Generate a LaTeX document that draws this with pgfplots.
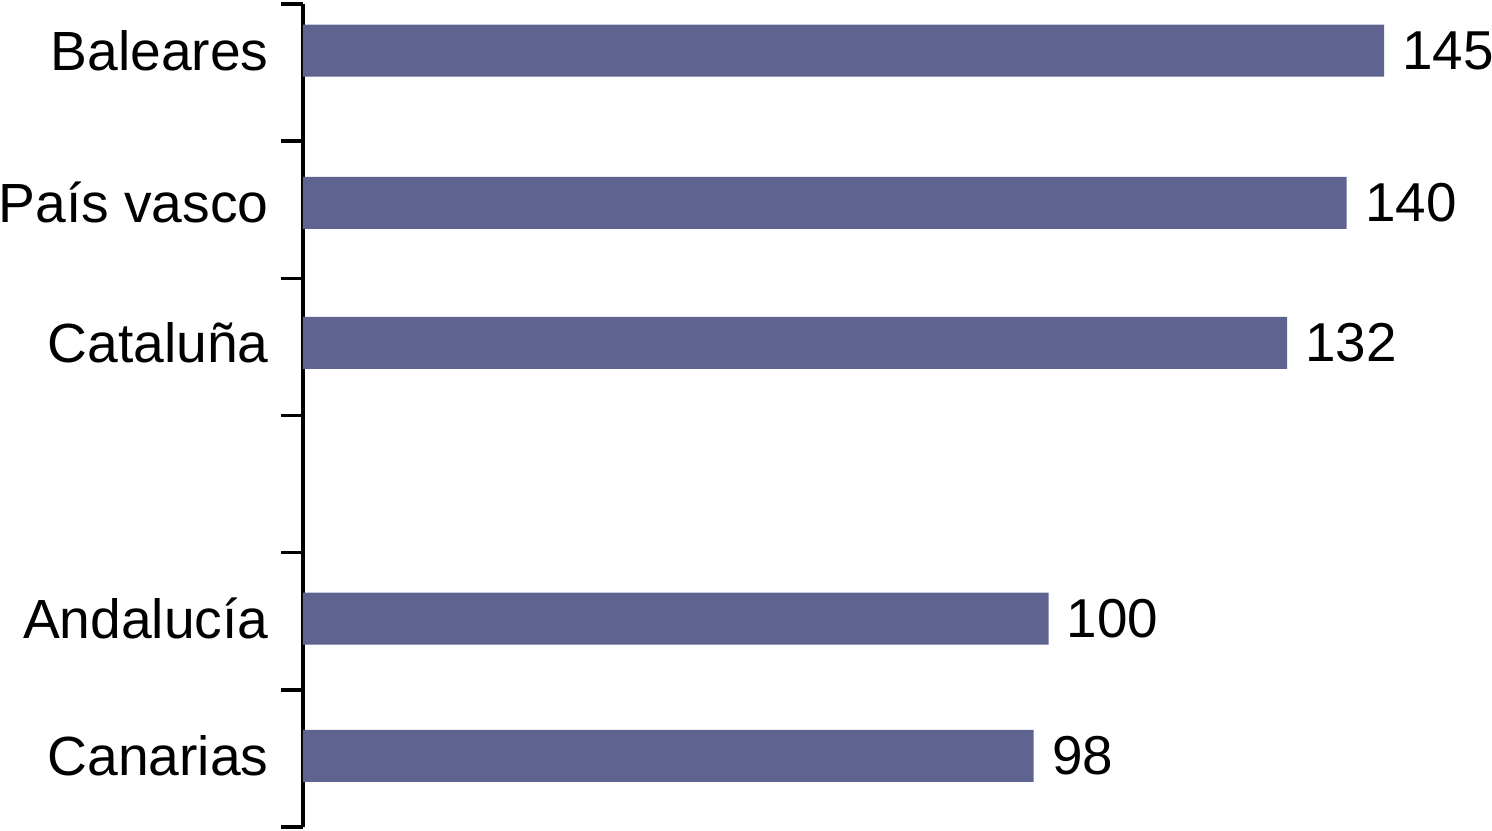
\documentclass[border=0pt]{standalone}
\usepackage{pgfplots}
\pgfplotsset{compat=1.18}
\usepackage{fontspec}
\setmainfont{Liberation Sans}
\definecolor{barcol}{RGB}{95,99,144}
\begin{document}
\begin{tikzpicture}
\begin{axis}[
  scale only axis,
  width=540.5pt, height=411.5pt,
  xmin=0, xmax=145,
  ymin=0, ymax=6,
  axis x line=none,
  axis y line=left,
  axis line style={-, line width=1.7pt, black},
  clip=false,
  xbar, bar width=26pt,
  ytick={0.518,1.52,3.53,4.55,5.66},
  yticklabels={Canarias,Andaluc\'ia,Catalu\~na,Pa\'is vasco,Baleares},
  major tick length=0pt,
  extra y ticks={0,1,2,3,4,5,6},
  extra y tick labels={},
  extra y tick style={major tick length=11pt, tick align=outside, tick style={line width=1.7pt, black}},
  yticklabel style={font=\fontsize{27.6}{32}\selectfont, anchor=east, inner sep=0pt, xshift=-17pt},
  /pgf/number format/assume math mode=true,
  nodes near coords,
  nodes near coords style={font=\fontsize{27.4}{32}\selectfont, anchor=west, inner sep=0pt, xshift=9pt},
]
\addplot[fill=barcol, draw=none] coordinates {(98,0.518) (100,1.52) (132,3.53) (140,4.55) (145,5.66)};
\end{axis}
\pgfresetboundingbox
\useasboundingbox (-151.5pt,-1.5pt) rectangle (594.5pt,413.5pt);
\end{tikzpicture}
\end{document}
